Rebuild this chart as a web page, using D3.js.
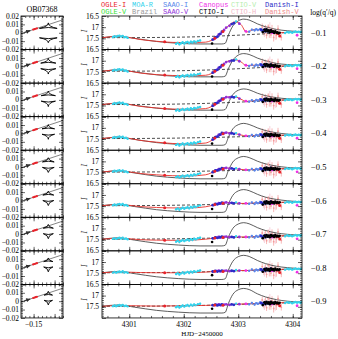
<!DOCTYPE html>
<html>
<head>
<meta charset="utf-8">
<script src="https://cdn.jsdelivr.net/npm/d3@7"></script>
<style>
body{margin:0;background:#fff}
svg{display:block}
text{font-family:"Liberation Serif",serif;fill:#000}
.mono{font-family:"Liberation Mono",monospace}
</style>
</head>
<body>
<div class="canvas"></div>
<script>
// ---- data ----
const logQ = ["−0.1","−0.2","−0.3","−0.4","−0.5","−0.6","−0.7","−0.8","−0.9"]

// red best-fit model, one row per panel (I mag)
const modelT = [4300.5,4300.65,4300.8,4300.95,4301.2,4301.5,4301.8,4302.1,4302.4,4302.5,4302.6,4302.7,4302.8,4302.95,4303.05,4303.15,4303.3,4303.5,4303.75,4304.0,4304.17]
const redModel = [
  [17.47,17.43,17.39,17.44,17.55,17.63,17.68,17.69,17.67,17.6,17.45,17.22,16.98,16.76,16.88,17.22,17.1,17.15,17.25,17.22,17.2],
  [17.47,17.43,17.39,17.44,17.55,17.62,17.66,17.67,17.65,17.58,17.42,17.22,17.03,16.96,17.05,17.22,17.2,17.2,17.24,17.21,17.2],
  [17.46,17.42,17.38,17.43,17.54,17.61,17.66,17.67,17.64,17.56,17.4,17.22,17.12,17.12,17.22,17.32,17.28,17.25,17.26,17.23,17.22],
  [17.48,17.44,17.4,17.45,17.56,17.64,17.7,17.72,17.68,17.58,17.4,17.25,17.22,17.26,17.32,17.36,17.34,17.32,17.33,17.32,17.31],
  [17.48,17.44,17.41,17.45,17.54,17.6,17.64,17.65,17.6,17.52,17.4,17.32,17.3,17.33,17.36,17.38,17.36,17.34,17.33,17.32,17.31],
  [17.48,17.45,17.42,17.45,17.52,17.56,17.58,17.58,17.53,17.48,17.41,17.36,17.34,17.36,17.38,17.38,17.36,17.35,17.33,17.32,17.31],
  [17.48,17.45,17.43,17.45,17.5,17.52,17.53,17.52,17.48,17.45,17.41,17.38,17.37,17.38,17.38,17.38,17.36,17.35,17.33,17.32,17.3],
  [17.48,17.46,17.44,17.45,17.47,17.48,17.48,17.47,17.45,17.43,17.41,17.4,17.39,17.39,17.38,17.38,17.36,17.35,17.33,17.31,17.3],
  [17.48,17.46,17.44,17.45,17.46,17.47,17.46,17.45,17.44,17.43,17.42,17.41,17.4,17.39,17.38,17.37,17.36,17.34,17.32,17.31,17.3]
]

// thin black model with the q' planet
const blackT = [4300.5,4300.8,4301.1,4301.5,4301.9,4302.3,4302.7,4302.76,4302.82,4302.9,4303.0,4303.1,4303.2,4303.35,4303.5,4303.7,4303.9,4304.17]
const blackModel = [
  [17.47,17.41,17.5,17.64,17.72,17.75,17.75,17.72,17.35,16.95,16.72,16.64,16.68,16.85,16.98,17.1,17.16,17.2],
  [17.47,17.41,17.5,17.63,17.7,17.72,17.72,17.69,17.35,16.98,16.75,16.68,16.72,16.88,17.0,17.12,17.17,17.2],
  [17.46,17.4,17.49,17.62,17.69,17.71,17.71,17.68,17.38,17.02,16.82,16.76,16.8,16.95,17.06,17.15,17.2,17.22],
  [17.48,17.42,17.52,17.66,17.74,17.78,17.78,17.75,17.42,17.05,16.86,16.8,16.85,17.0,17.12,17.22,17.28,17.32],
  [17.48,17.42,17.52,17.66,17.74,17.78,17.78,17.75,17.4,17.03,16.84,16.78,16.83,16.99,17.11,17.21,17.27,17.31],
  [17.48,17.42,17.52,17.66,17.74,17.78,17.78,17.75,17.4,17.02,16.82,16.76,16.81,16.97,17.1,17.2,17.26,17.31],
  [17.48,17.42,17.52,17.66,17.74,17.78,17.78,17.75,17.38,17.0,16.8,16.74,16.79,16.96,17.09,17.2,17.26,17.3],
  [17.48,17.42,17.52,17.66,17.74,17.78,17.78,17.75,17.36,16.97,16.76,16.7,16.75,16.93,17.07,17.19,17.25,17.3],
  [17.48,17.42,17.52,17.66,17.74,17.78,17.78,17.75,17.35,16.95,16.74,16.68,16.73,16.92,17.06,17.18,17.25,17.3]
]

// dashed single lens curve
const dashT = [4300.5,4301.5,4302.5,4303.3,4304.17]
const dashModel = [
  [17.47,17.46,17.41,17.32,17.2],
  [17.47,17.46,17.41,17.32,17.2],
  [17.46,17.45,17.4,17.32,17.22],
  [17.48,17.47,17.43,17.38,17.31],
  [17.48,17.47,17.43,17.38,17.3],
  [17.48,17.47,17.43,17.38,17.3],
  [17.48,17.47,17.43,17.38,17.3],
  [17.48,17.47,17.43,17.37,17.3],
  [17.48,17.47,17.43,17.37,17.3]
]

// observations: HJD, offset from the red fit (mag), error
const moaT = [4300.7,4300.73,4300.76,4300.79,4300.82,4300.85,4300.88,4300.91,4300.94,4300.97,4301.86,4301.89,4301.92,4301.95,4301.98,4302.01,4302.04,4302.07,4302.1,4302.13,4302.16,4302.19,4302.22,4302.26,4302.3,4302.96,4303.6,4303.86,4303.9,4303.93,4303.96,4303.99,4304.02,4304.05,4304.08,4304.11,4304.14,4304.16]
const moaRes = [0.02,-0.01,0.03,0,-0.02,0.01,-0.03,0.02,0,0.03,0.06,0.02,0.08,0.03,-0.01,0.04,0,-0.03,0.02,-0.04,0,-0.05,-0.02,-0.06,-0.08,-0.03,0,0.02,-0.02,0.01,-0.01,0.03,0,-0.02,0.01,-0.01,0.02,0]
const moaErr = [0.03,0.03,0.03,0.03,0.03,0.03,0.03,0.03,0.03,0.03,0.05,0.05,0.05,0.05,0.05,0.05,0.05,0.05,0.05,0.05,0.05,0.05,0.05,0.05,0.05,0.03,0.04,0.03,0.03,0.03,0.03,0.03,0.03,0.03,0.03,0.03,0.03,0.03]

const ogleT = [4301.65,4302.57,4302.72,4303.72,4303.76]
const ogleRes = [0,0,0.02,0.04,0.14]

const ctioIT = [4302.52,4303.45,4303.48,4303.5,4303.52,4303.54,4303.56,4303.58,4303.6,4303.62,4303.64,4303.66,4303.68,4303.7,4303.72,4303.74,4303.76]
const ctioIRes = [0.16,0.08,-0.04,0.03,-0.06,0.02,-0.03,0.05,-0.05,0.01,-0.02,0.04,-0.04,0.02,-0.01,0.03,0]

const danishIT = [4302.53,4302.58,4302.62,4302.66,4302.7,4302.88,4302.92,4303.42,4303.46,4303.5,4303.55,4303.6,4303.65]
const danishIRes = [0,-0.02,0.02,0,-0.02,0,0.02,-0.02,0.03,-0.04,0.01,-0.03,0.02]

const saaoVT = [4302.55,4302.6,4302.64,4302.68,4302.74,4302.78,4302.84,4303.02]
const saaoVRes = [0.01,0,-0.02,0.02,0,-0.01,0.02,0]

const saaoIT = [4303.2,4303.25,4303.3,4303.33,4303.36,4303.4,4303.43,4303.46,4303.5,4303.53,4303.56,4303.6,4303.63,4303.66]
const saaoIRes = [0.02,-0.03,0.04,-0.02,0.01,-0.04,0.03,-0.01,0.05,-0.03,0.02,-0.05,0.03,0]
const saaoIErr = [0.05,0.05,0.06,0.05,0.05,0.06,0.05,0.05,0.06,0.05,0.05,0.06,0.05,0.05]

const canopusT = [4303.14,4303.62,4304.08]
const canopusRes = [0,0.05,0.15]

const danishVT = [4303.44,4303.47,4303.5,4303.52,4303.55,4303.57,4303.6,4303.62,4303.65,4303.67,4303.7,4303.73,4303.76,4303.79]
const danishVRes = [-0.15,0.1,-0.05,0.2,-0.2,0.05,0.15,-0.1,0.25,-0.02,0.12,-0.18,0.08,0.2]
const danishVErr = [0.15,0.12,0.2,0.15,0.1,0.25,0.15,0.2,0.18,0.12,0.2,0.15,0.1,0.15]

const ctioHT = [4303.48,4303.58,4303.68]
const ctioHRes = [0.05,-0.1,0.1]
const ctioHErr = [0.25,0.3,0.25]

// left column: caustics and source trajectory
const causticX = -0.115
const causticHalf = [0.021,0.018,0.017,0.015,0.014,0.013,0.012,0.011,0.01]
const upperApex = [0.0118,0.0095,0.0105,0.0105,0.011,0.0112,0.0115,0.0115,0.0118]
const upperBase = [0.0052,0.0038,0.005,0.0055,0.006,0.0065,0.007,0.0072,0.0072]
const lowerBase = [-0.006,-0.0028,-0.0015,-0.001,-0.0005,0,0.0005,0.0008,0.001]
const lowerApex = [-0.0118,-0.0092,-0.008,-0.007,-0.0065,-0.006,-0.0055,-0.005,-0.0045]
const trajX = [-0.18,-0.08]
const trajY = [-0.001,0.0155]
const trajDotX = [-0.151,-0.148,-0.145,-0.142]
const trajDotY = [0.0038,0.0043,0.0048,0.0053]

const legendNames = [["OGLE-I","MOA-R","SAAO-I","Canopus","CTIO-V","Danish-I"],["OGLE-V","Brazil","SAAO-V","CTIO-I","CTIO-H","Danish-V"]]
const legendColors = [["#e8222a","#33d3ec","#5a86ea","#ee30e6","#b6eeae","#2b2bc8"],["#38e038","#9a9a9a","#9030d8","#000000","#f2b8c6","#f08a8a"]]

// ---- layout ----
const dim = {w:338, h:339, top:16, ph:33.55, lx0:21, lx1:63, rx0:102, rx1:302}
const svg = d3.select(".canvas").append("svg").attr("width",dim.w).attr("height",dim.h)
svg.append("rect").attr("width",dim.w).attr("height",dim.h).attr("fill","#fff")

const x = d3.scaleLinear().domain([4300.5,4304.17]).range([dim.rx0,dim.rx1])
const xl = d3.scaleLinear().domain([-0.18,-0.08]).range([dim.lx0,dim.lx1])

const sets = [
  {t:danishVT, r:danishVRes, e:danishVErr, c:"#f39a9a", rad:0.9},
  {t:ctioHT, r:ctioHRes, e:ctioHErr, c:"#f4bccb", rad:0.9},
  {t:moaT, r:moaRes, e:moaErr, c:"#33d3ec", rad:1.2},
  {t:saaoIT, r:saaoIRes, e:saaoIErr, c:"#5a86ea", rad:1.2},
  {t:saaoVT, r:saaoVRes, e:null, c:"#9030d8", rad:1.4},
  {t:danishIT, r:danishIRes, e:null, c:"#2b2bc8", rad:1.4},
  {t:canopusT, r:canopusRes, e:null, c:"#ee30e6", rad:1.4},
  {t:ogleT, r:ogleRes, e:null, c:"#e8222a", rad:1.5},
  {t:ctioIT, r:ctioIRes, e:null, c:"#000", rad:1.3}
]

const tickRow = (g, axis, scale, vals, size, tr) => {
  g.append("g").attr("transform",tr)
    .call(axis(scale).tickValues(vals).tickSize(size).tickFormat(""))
    .call(a => a.select(".domain").remove())
    .selectAll("line").attr("stroke","#000").attr("stroke-width",0.6)
}

const xMajor = [4301,4302,4303,4304]
const xMinor = d3.range(0,18).map(k => 4300.6 + k*0.2)
const yMajor = [16.5,17,17.5,18]
const yMinor = d3.range(1,15).map(k => 16.5 + k*0.1)
const lxMajor = [-0.15,-0.1]
const lxMinor = d3.range(0,10).map(k => -0.17 + k*0.01)
const lyMajor = [-0.02,-0.01,0,0.01,0.02]
const lyMinor = d3.range(1,20).map(k => -0.02 + k*0.002)
const fmtL = d => d === 0 ? "0" : d3.format(".2f")(d).replace("-","−")

logQ.forEach((lab,i) => {
  const y0 = dim.top + i*dim.ph, y1 = y0 + dim.ph
  const y = d3.scaleLinear().domain([16.5,18]).range([y0,y1])
  const yl = d3.scaleLinear().domain([0.02,-0.02]).range([y0,y1])

  // ---------- right panel ----------
  const g = svg.append("g")
  const clipId = "clip" + i
  g.append("clipPath").attr("id",clipId).append("rect")
    .attr("x",dim.rx0).attr("y",y0).attr("width",dim.rx1-dim.rx0).attr("height",dim.ph)
  const plot = g.append("g").attr("clip-path",`url(#${clipId})`)
  const fit = d3.scaleLinear().domain(modelT).range(redModel[i])

  sets.forEach(s => {
    if (s.e) {
      plot.selectAll(null).data(s.t).enter().append("line")
        .attr("x1",d => x(d)).attr("x2",d => x(d))
        .attr("y1",(d,k) => y(fit(d) + s.r[k] - s.e[k]))
        .attr("y2",(d,k) => y(fit(d) + s.r[k] + s.e[k]))
        .attr("stroke",s.c).attr("stroke-width",0.7)
    }
  })

  const lineR = d3.line().x(d => x(d[0])).y(d => y(d[1])).curve(d3.curveMonotoneX)
  plot.append("path").datum(dashT.map((t,k) => [t,dashModel[i][k]]))
    .attr("d",lineR).attr("fill","none").attr("stroke","#000").attr("stroke-width",0.7).attr("stroke-dasharray","3,2")
  plot.append("path").datum(blackT.map((t,k) => [t,blackModel[i][k]]))
    .attr("d",lineR).attr("fill","none").attr("stroke","#333").attr("stroke-width",0.8)
  plot.append("path").datum(modelT.map((t,k) => [t,redModel[i][k]]))
    .attr("d",lineR).attr("fill","none").attr("stroke","#e8302a").attr("stroke-width",0.9)

  sets.forEach(s => {
    plot.selectAll(null).data(s.t).enter().append("circle")
      .attr("cx",d => x(d)).attr("cy",(d,k) => y(fit(d) + s.r[k]))
      .attr("r",s.rad).attr("fill",s.c)
  })

  g.append("rect").attr("x",dim.rx0).attr("y",y0).attr("width",dim.rx1-dim.rx0).attr("height",dim.ph)
    .attr("fill","none").attr("stroke","#000").attr("stroke-width",0.8)
  tickRow(g,d3.axisBottom,x,xMajor,-4,`translate(0,${y1})`)
  tickRow(g,d3.axisBottom,x,xMinor,-2,`translate(0,${y1})`)
  tickRow(g,d3.axisTop,x,xMajor,-4,`translate(0,${y0})`)
  tickRow(g,d3.axisTop,x,xMinor,-2,`translate(0,${y0})`)
  tickRow(g,d3.axisLeft,y,yMajor,-4,`translate(${dim.rx0},0)`)
  tickRow(g,d3.axisLeft,y,yMinor,-2,`translate(${dim.rx0},0)`)
  tickRow(g,d3.axisRight,y,yMajor,-4,`translate(${dim.rx1},0)`)
  tickRow(g,d3.axisRight,y,yMinor,-2,`translate(${dim.rx1},0)`)

  g.selectAll(null).data([16.5,17,17.5]).enter().append("text")
    .attr("x",dim.rx0-3).attr("y",d => y(d)+2.6).attr("text-anchor","end")
    .attr("font-size",7.5).text(d => d)
  g.append("text").attr("transform",`translate(87,${y0+15}) rotate(-90)`)
    .attr("text-anchor","middle").attr("font-size",7.5).attr("font-style","italic").text("I")
  g.append("text").attr("x",311).attr("y",y0+dim.ph/2+3).attr("font-size",8.5).text(lab)

  // ---------- left panel ----------
  const gl = svg.append("g")
  gl.append("line").attr("x1",xl(trajX[0])).attr("y1",yl(trajY[0]))
    .attr("x2",xl(trajX[1])).attr("y2",yl(trajY[1]))
    .attr("stroke","#666").attr("stroke-width",0.8)
  const ang = Math.atan2(yl(trajY[1])-yl(trajY[0]), xl(trajX[1])-xl(trajX[0])) * 180/Math.PI
  const ax = xl(-0.158), ay = yl(trajY[0] + (trajY[1]-trajY[0])*0.22)
  gl.append("path").attr("d","M0,0L-4,-2L-4,2Z").attr("fill","#222")
    .attr("transform",`translate(${ax},${ay}) rotate(${ang})`)
  gl.append("line").attr("x1",xl(-0.172)).attr("y1",yl(trajY[0] + (trajY[1]-trajY[0])*0.08))
    .attr("x2",ax).attr("y2",ay).attr("stroke","#333").attr("stroke-width",1.2)
  gl.selectAll(null).data(trajDotX).enter().append("circle")
    .attr("cx",d => xl(d)).attr("cy",(d,k) => yl(trajDotY[k])).attr("r",1.1).attr("fill","#e8222a")

  const caustic = (apex, base) => {
    const w = causticHalf[i]
    const cy = (2*base + apex)/3
    const p = d3.path()
    p.moveTo(xl(causticX-w), yl(base))
    p.quadraticCurveTo(xl(causticX), yl(cy), xl(causticX), yl(apex))
    p.quadraticCurveTo(xl(causticX), yl(cy), xl(causticX+w), yl(base))
    p.quadraticCurveTo(xl(causticX), yl(cy), xl(causticX-w), yl(base))
    return p.toString()
  }
  gl.append("path").attr("d",caustic(upperApex[i],upperBase[i])).attr("fill","none").attr("stroke","#000").attr("stroke-width",0.9)
  gl.append("path").attr("d",caustic(lowerApex[i],lowerBase[i])).attr("fill","none").attr("stroke","#000").attr("stroke-width",0.9)

  gl.append("rect").attr("x",dim.lx0).attr("y",y0).attr("width",dim.lx1-dim.lx0).attr("height",dim.ph)
    .attr("fill","none").attr("stroke","#000").attr("stroke-width",0.8)
  tickRow(gl,d3.axisBottom,xl,lxMajor,-4,`translate(0,${y1})`)
  tickRow(gl,d3.axisBottom,xl,lxMinor,-2,`translate(0,${y1})`)
  tickRow(gl,d3.axisTop,xl,lxMajor,-4,`translate(0,${y0})`)
  tickRow(gl,d3.axisTop,xl,lxMinor,-2,`translate(0,${y0})`)
  tickRow(gl,d3.axisLeft,yl,lyMajor,-4,`translate(${dim.lx0},0)`)
  tickRow(gl,d3.axisLeft,yl,lyMinor,-2,`translate(${dim.lx0},0)`)
  tickRow(gl,d3.axisRight,yl,lyMajor,-4,`translate(${dim.lx1},0)`)
  tickRow(gl,d3.axisRight,yl,lyMinor,-2,`translate(${dim.lx1},0)`)
  // the 0.02 label of lower panels sits under the −0.02 of the panel above
  gl.selectAll(null).data(lyMajor.filter(d => i === 0 || d < 0.02)).enter().append("text")
    .attr("x",dim.lx0-2).attr("y",d => yl(d)+2.6).attr("text-anchor","end")
    .attr("font-size",7.5).text(fmtL)
})

// bottom axes labels
const yb = dim.top + 9*dim.ph
svg.selectAll(null).data(xMajor).enter().append("text")
  .attr("x",d => x(d)).attr("y",yb+9).attr("text-anchor","middle").attr("font-size",7.5).text(d => d)
svg.append("text").attr("x",(dim.rx0+dim.rx1)/2).attr("y",yb+18).attr("text-anchor","middle")
  .attr("font-size",7).text("HJD−2450000")
svg.append("text").attr("x",xl(-0.15)).attr("y",yb+9).attr("text-anchor","middle").attr("font-size",7.5).text("−0.15")

// titles and legend
svg.append("text").attr("x",(dim.lx0+dim.lx1)/2).attr("y",12).attr("text-anchor","middle").attr("font-size",8).text("OB07368")
svg.append("text").attr("x",336).attr("y",15).attr("text-anchor","end").attr("font-size",7.5).text("log(q′/q)")
const legendX = [101,132,163,199,231,265]
legendNames.forEach((row,r) => {
  svg.selectAll(null).data(row).enter().append("text")
    .attr("class","mono").attr("x",(d,k) => legendX[k]).attr("y",6.5 + r*7.6)
    .attr("font-size",7).style("fill",(d,k) => legendColors[r][k])
    .text(d => d)
})
</script>
</body>
</html>
